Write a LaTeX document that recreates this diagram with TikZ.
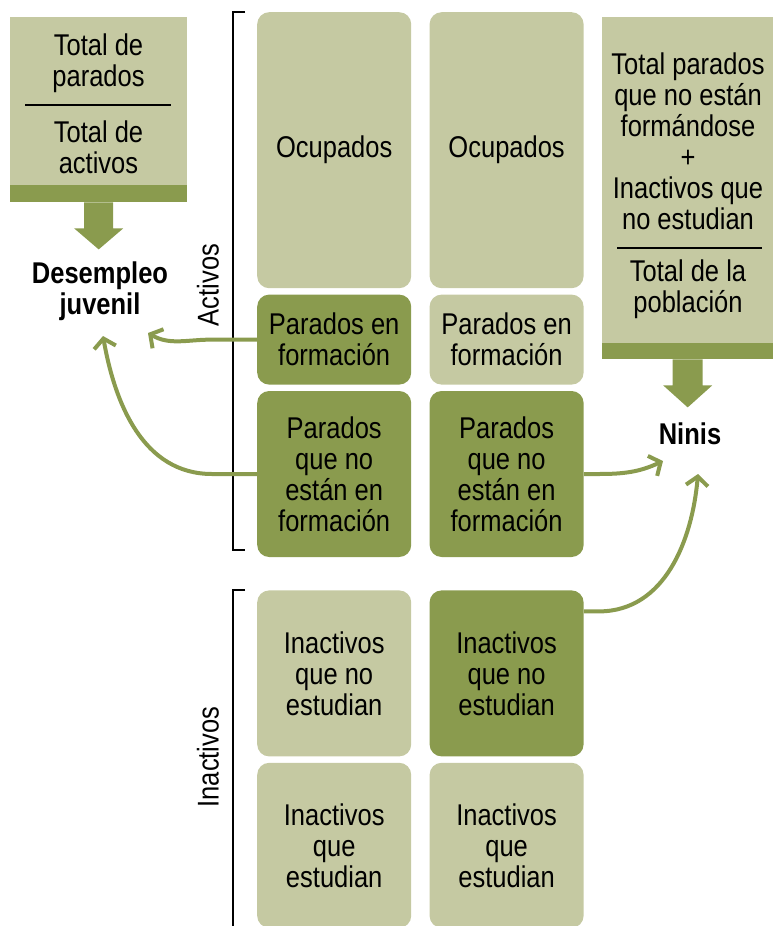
\documentclass[tikz,border=0pt]{standalone}
\usepackage{fontspec}
\setmainfont{Liberation Sans}[FakeStretch=0.85]
\usepackage{xcolor}
\usetikzlibrary{arrows.meta, positioning}

\definecolor{olivelight}{RGB}{197,201,162}
\definecolor{olivedark}{RGB}{138,155,78}

\begin{document}
\begin{tikzpicture}[
    x=1pt, y=-1pt,
    node distance=6pt and 18pt,
    every node/.style={font=\fontsize{30}{31}\selectfont, align=center, inner sep=0pt},
    cell/.style={rectangle, rounded corners=12pt, minimum width=154pt, fill=olivelight},
    hot/.style={cell, fill=olivedark},
    formbox/.style={rectangle, fill=olivelight, anchor=north west},
    result/.style={font=\fontsize{30}{31}\selectfont\bfseries},
    flow/.style={-{Straight Barb[length=9pt, width=22pt, line width=4pt]}, line width=4pt, olivedark},
    brace/.style={line width=1.5pt},
]
\useasboundingbox (0,0) rectangle (773,926);

% Columns of population groups
\node[cell, minimum height=276pt, anchor=north west] (ocupA) at (257,12) {Ocupados};
\node[hot, minimum height=90pt, below=of ocupA] (formA) {Parados en\\formación};
\node[hot, minimum height=166pt, below=of formA] (noformA) {Parados\\que no\\están en\\formación};
\node[cell, minimum height=166pt, below=33pt of noformA] (noestA) {Inactivos\\que no\\estudian};
\node[cell, minimum height=165pt, below=of noestA] (estA) {Inactivos\\que\\estudian};

\node[cell, minimum height=276pt, right=of ocupA] (ocupB) {Ocupados};
\node[cell, minimum height=90pt, below=of ocupB] (formB) {Parados en\\formación};
\node[hot, minimum height=166pt, below=of formB] (noformB) {Parados\\que no\\están en\\formación};
\node[hot, minimum height=166pt, below=33pt of noformB] (noestB) {Inactivos\\que no\\estudian};
\node[cell, minimum height=165pt, below=of noestB] (estB) {Inactivos\\que\\estudian};

% Brackets
\draw[brace] (245,12) -- (233,12) -- (233,550) -- (245,550);
\draw[brace] (245,590) -- (233,590) -- (233,926);
\node[rotate=90] (activos) at (208,285) {Activos};
\node[rotate=90] (inactivos) at (208,757) {Inactivos};

% Left formula
\node[formbox, minimum width=177pt, minimum height=185pt] (boxL) at (10,17) {};
\fill[olivedark] (boxL.south west) rectangle ([yshift=17pt]boxL.south east);
\node (numL) at (98.5,63) {Total de\\parados};
\draw[brace] (25,105) -- (171,105);
\node (denL) at (98.5,147) {Total de\\activos};
\fill[olivedark] ([xshift=-14.5pt]boxL.south) -- ++(0,26) -- ++(-10,0) -- ([yshift=-47pt]boxL.south)
    -- ++(24.5,-21) -- ++(-10,0) -- ++(0,-26) -- cycle;
\node[result] (desempleo) at (100,291) {Desempleo\\juvenil};

% Right formula
\node[formbox, minimum width=171pt, minimum height=342pt] (boxR) at (602,17) {};
\fill[olivedark] (boxR.south west) rectangle ([yshift=16pt]boxR.south east);
\node (numR) at (688,141) {Total parados\\que no están\\formándose\\+\\Inactivos que\\no estudian};
\draw[brace] (617,248) -- (762,248);
\node (denR) at (688,289) {Total de la\\población};
\fill[olivedark] ([xshift=-15pt]boxR.south) -- ++(0,26) -- ++(-9.5,0) -- ([yshift=-48pt]boxR.south)
    -- ++(24.5,-22) -- ++(-9.5,0) -- ++(0,-26) -- cycle;
\node[result] (ninis) at (690,434) {Ninis};

% Flows
\coordinate (dj1) at (148,333);
\coordinate (dj2) at (103,336);
\coordinate (nn1) at (663,461);
\coordinate (nn2) at (698,474);
\draw[flow] (formA.west) -- ++(-45,0) to[out=180, in=-30] (dj1);
\draw[flow] (noformA.west) -- ++(-45,0) to[out=180, in=-80] (dj2);
\draw[flow] (noformB.east) -- ++(15,0) to[out=0, in=205] (nn1);
\draw[flow] ([yshift=62pt]noestB.east) -- ++(15,0) to[out=0, in=-95] (nn2);

\end{tikzpicture}
\end{document}
